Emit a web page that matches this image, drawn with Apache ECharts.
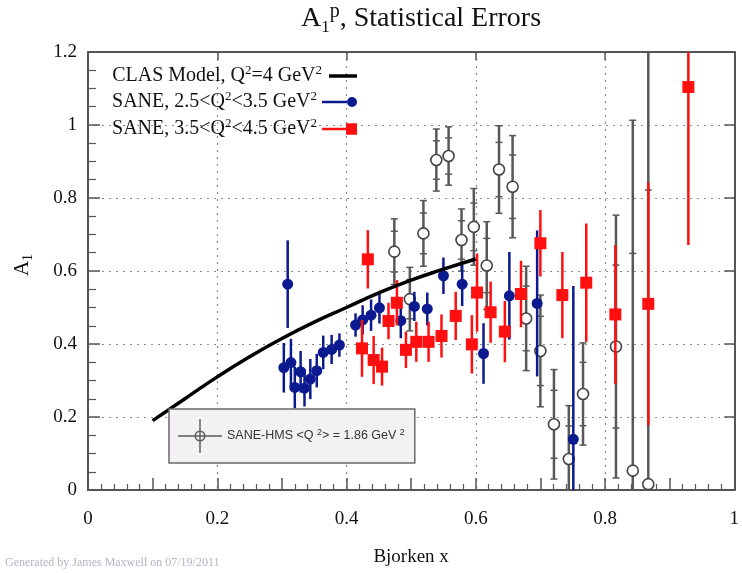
<!DOCTYPE html>
<html>
<head>
<meta charset="utf-8">
<title>A1p, Statistical Errors</title>
<script src="https://cdn.jsdelivr.net/npm/echarts@6/dist/echarts.min.js"></script>
<style>
html, body { margin: 0; padding: 0; background: #fff; }
#chart1 { width: 742px; height: 573px; }
</style>
</head>
<body>
<div id="chart1"></div>
<script>
/* A1 proton, statistical errors */

// CLAS model, Q2 = 4 GeV2
var modelX = [0.1, 0.15, 0.2, 0.25, 0.3, 0.35, 0.4, 0.45, 0.5, 0.55, 0.6];
var modelY = [0.19, 0.25, 0.31, 0.365, 0.415, 0.46, 0.50, 0.54, 0.575, 0.605, 0.633];

// SANE, 2.5<Q2<3.5
var blueX = [0.303, 0.309, 0.314, 0.320, 0.329, 0.335, 0.344, 0.354, 0.364, 0.377, 0.389, 0.414,
             0.425, 0.438, 0.451, 0.484, 0.505, 0.525, 0.550, 0.579, 0.612, 0.652, 0.695, 0.751];
var blueY = [0.335, 0.564, 0.349, 0.281, 0.324, 0.279, 0.304, 0.327, 0.377, 0.385, 0.397, 0.452,
             0.466, 0.479, 0.499, 0.464, 0.503, 0.496, 0.587, 0.564, 0.374, 0.532, 0.511, 0.139];
var blueErr = [0.068, 0.12, 0.065, 0.057, 0.057, 0.05, 0.055, 0.046, 0.046, 0.04, 0.032, 0.032,
               0.04, 0.043, 0.043, 0.048, 0.04, 0.045, 0.05, 0.06, 0.083, 0.12, 0.2, 0.42];

// SANE, 3.5<Q2<4.5
var redX = [0.424, 0.433, 0.442, 0.455, 0.465, 0.478, 0.492, 0.508, 0.527, 0.547, 0.569,
            0.594, 0.602, 0.623, 0.645, 0.670, 0.700, 0.734, 0.771, 0.816, 0.867, 0.929];
var redY = [0.388, 0.632, 0.356, 0.338, 0.463, 0.513, 0.384, 0.406, 0.406, 0.422, 0.477,
            0.399, 0.541, 0.487, 0.434, 0.537, 0.676, 0.534, 0.568, 0.481, 0.510, 1.104];
var redErr = [0.078, 0.08, 0.066, 0.052, 0.05, 0.062, 0.05, 0.055, 0.055, 0.059, 0.066,
              0.08, 0.107, 0.084, 0.084, 0.091, 0.091, 0.118, 0.162, 0.19, 0.333, 0.433];

// SANE-HMS <Q2> = 1.86
var hmsX = [0.474, 0.498, 0.519, 0.539, 0.558, 0.578, 0.597, 0.617, 0.636,
            0.657, 0.678, 0.700, 0.721, 0.744, 0.766, 0.817, 0.843, 0.867];
var hmsY = [0.653, 0.523, 0.703, 0.904, 0.915, 0.685, 0.721, 0.615, 0.878,
            0.831, 0.470, 0.381, 0.180, 0.085, 0.263, 0.393, 0.053, 0.016];
var hmsErr = [0.09, 0.087, 0.09, 0.085, 0.08, 0.085, 0.105, 0.12, 0.12,
              0.14, 0.143, 0.153, 0.15, 0.146, 0.14, 0.36, 0.96, 1.3];

var serif = "'Liberation Serif', 'DejaVu Serif', serif";
var sans = "'Liberation Sans', Arial, sans-serif";
var blue = '#0b1a8e', red = '#ff0f0f', gray = '#585858';

function zip3(xs, ys, es) {
    var out = [];
    for (var i = 0; i < xs.length; i++) out.push([xs[i], ys[i], es[i]]);
    return out;
}
var modelData = [];
for (var i = 0; i < modelX.length; i++) modelData.push([modelX[i], modelY[i]]);

function errBars(kind) {
    return function (params, api) {
        var x = api.value(0), y = api.value(1), e = api.value(2);
        var p = api.coord([x, y]);
        var t = api.coord([x, y + e])[1];
        var b = api.coord([x, y - e])[1];
        var kids = [];
        var col = kind === 'hms' ? gray : (kind === 'blue' ? blue : red);
        kids.push({ type: 'line', shape: { x1: p[0], y1: t, x2: p[0], y2: b },
                    style: { stroke: col, lineWidth: 2.5 } });
        if (kind === 'hms') {
            var m1 = api.coord([x, y + 0.62 * e])[1];
            var m2 = api.coord([x, y - 0.62 * e])[1];
            [t, b, m1, m2].forEach(function (yy) {
                kids.push({ type: 'line', shape: { x1: p[0] - 3.5, y1: yy, x2: p[0] + 3.5, y2: yy },
                            style: { stroke: gray, lineWidth: 1.5 } });
            });
            kids.push({ type: 'circle', shape: { cx: p[0], cy: p[1], r: 5.5 },
                        style: { fill: '#fff', stroke: '#444', lineWidth: 1.6 } });
        } else if (kind === 'blue') {
            kids.push({ type: 'circle', shape: { cx: p[0], cy: p[1], r: 5.5 }, style: { fill: blue } });
        } else {
            kids.push({ type: 'rect', shape: { x: p[0] - 6, y: p[1] - 6, width: 12, height: 12 },
                        style: { fill: red } });
        }
        return { type: 'group', children: kids };
    };
}

var legendLabels = {
    clas: '{n|CLAS Model, Q}{s|2}{n|=4 GeV}{s|2}',
    sane1: '{n|SANE, 2.5<Q}{s|2}{n|<3.5 GeV}{s|2}',
    sane2: '{n|SANE, 3.5<Q}{s|2}{n|<4.5 GeV}{s|2}',
    hms: '{n|SANE-HMS <Q }{s|2}{n|> = 1.86 GeV }{s|2}'
};
function legendFmt(name) { return legendLabels[name]; }

var serifLegendText = {
    color: '#111',
    rich: {
        n: { fontFamily: serif, fontSize: 20, lineHeight: 24, color: '#111' },
        s: { fontFamily: serif, fontSize: 13, lineHeight: 17, verticalAlign: 'top', color: '#111' }
    }
};
function serifLegend(name, top, icon, w, h) {
    return {
        data: [{ name: name, icon: icon }],
        right: 385, top: top, padding: 0,
        align: 'right', itemWidth: w, itemHeight: h,
        selectedMode: false, formatter: legendFmt,
        textStyle: serifLegendText
    };
}

var mychart = echarts.init(document.getElementById('chart1'));

var option = {
    animation: false,
    backgroundColor: '#fff',
    grid: { left: 88, right: 3, top: 52, bottom: 83 },
    legend: [
        serifLegend('clas', 64, 'path://M0,0 L32,0 L32,4 L0,4 Z', 32, 3.5),
        serifLegend('sane1', 90, 'path://M0,4 L25,4 L25,6.5 L0,6.5 Z M25,5.25 A5,5 0 1 1 35,5.25 A5,5 0 1 1 25,5.25 Z', 35, 10.5),
        serifLegend('sane2', 117, 'path://M0,4.5 L25,4.5 L25,7 L0,7 Z M24,0 L35,0 L35,11.5 L24,11.5 Z', 35, 11.5),
        {
            data: [{ name: 'hms', icon: 'path://M0,16.3 L44,16.3 L44,17.7 L0,17.7 Z M21.3,0 L22.7,0 L22.7,34 L21.3,34 Z M27.5,17 A5.5,5.5 0 1 1 16.5,17 A5.5,5.5 0 1 1 27.5,17 Z M26,17 A4,4 0 1 0 18,17 A4,4 0 1 0 26,17 Z' }],
            left: 169, top: 409, padding: [10, 10, 10, 9],
            itemWidth: 44, itemHeight: 34,
            backgroundColor: '#f4f1f4', borderColor: '#6a6a6a', borderWidth: 1.5,
            selectedMode: false, formatter: legendFmt,
            textStyle: {
                color: '#333',
                rich: {
                    n: { fontFamily: sans, fontSize: 12.5, lineHeight: 16, color: '#333' },
                    s: { fontFamily: sans, fontSize: 9, lineHeight: 10, verticalAlign: 'top', color: '#333' }
                }
            }
        }
    ],
    graphic: [
        {
            type: 'text', x: 421, y: 19,
            style: {
                text: '{a|A}{b|1}{c|p}{a|, Statistical Errors}',
                textAlign: 'center', textVerticalAlign: 'middle',
                align: 'center', verticalAlign: 'middle',
                rich: {
                    a: { fontFamily: serif, fontSize: 28, lineHeight: 34, fill: '#111', color: '#111' },
                    b: { fontFamily: serif, fontSize: 17, lineHeight: 21, verticalAlign: 'bottom', fill: '#111', color: '#111' },
                    c: { fontFamily: serif, fontSize: 20, lineHeight: 24, verticalAlign: 'top', fill: '#111', color: '#111' }
                }
            }
        },
        {
            type: 'text', x: 22, y: 265, rotation: Math.PI / 2,
            style: {
                text: '{a|A}{b|1}',
                textAlign: 'center', textVerticalAlign: 'middle',
                align: 'center', verticalAlign: 'middle',
                rich: {
                    a: { fontFamily: serif, fontSize: 21, lineHeight: 26, fill: '#111', color: '#111' },
                    b: { fontFamily: serif, fontSize: 14, lineHeight: 16, verticalAlign: 'bottom', fill: '#111', color: '#111' }
                }
            }
        },
        {
            type: 'text', x: 5, y: 563,
            style: {
                text: 'Generated by James Maxwell on 07/19/2011',
                font: '12px ' + serif, fill: '#b4b4c4',
                textAlign: 'left', textVerticalAlign: 'middle',
                align: 'left', verticalAlign: 'middle'
            }
        }
    ],
    xAxis: [{
        type: 'value', min: 0, max: 1, interval: 0.1, position: 'bottom',
        name: 'Bjorken x', nameLocation: 'middle', nameGap: 58,
        nameTextStyle: { fontFamily: serif, fontSize: 19, color: '#111' },
        axisLine: { show: true, onZero: false, lineStyle: { color: '#555', width: 2 } },
        axisTick: { show: true, inside: true, length: 12, lineStyle: { color: '#555', width: 1.5 } },
        minorTick: { show: true, splitNumber: 5, length: 6, lineStyle: { color: '#555', width: 1.2 } },
        axisLabel: {
            margin: 20, fontFamily: serif, fontSize: 19, color: '#111',
            formatter: function (v) {
                var k = Math.round(v * 10);
                return k % 2 === 0 ? String(k / 10) : '';
            }
        },
        splitLine: { show: false }
    }, {
        type: 'value', min: 0, max: 1, interval: 0.2, position: 'top',
        axisLine: { show: true, onZero: false, lineStyle: { color: '#555', width: 2 } },
        axisTick: { show: true, inside: true, length: 8, lineStyle: { color: '#555', width: 1.5 } },
        axisLabel: { show: false },
        splitLine: { show: true, lineStyle: { color: '#8a8a8a', width: 1.2, type: [2, 5] } }
    }],
    yAxis: [{
        type: 'value', min: 0, max: 1.2, interval: 0.2, position: 'left',
        axisLine: { show: true, onZero: false, lineStyle: { color: '#555', width: 2 } },
        axisTick: { show: true, inside: true, length: 12, lineStyle: { color: '#555', width: 1.5 } },
        minorTick: { show: true, splitNumber: 4, length: 8, lineStyle: { color: '#555', width: 1.2 } },
        axisLabel: {
            margin: 11, fontFamily: serif, fontSize: 19, color: '#111',
            formatter: function (v) { return String(Math.round(v * 10) / 10); }
        },
        splitLine: { show: true, lineStyle: { color: '#8a8a8a', width: 1.2, type: [2, 5] } }
    }, {
        type: 'value', min: 0, max: 1.2, interval: 0.2, position: 'right',
        axisLine: { show: true, onZero: false, lineStyle: { color: '#555', width: 2 } },
        axisTick: { show: true, inside: true, length: 10, lineStyle: { color: '#555', width: 1.5 } },
        axisLabel: { show: false },
        splitLine: { show: false }
    }],
    series: [{
        name: 'hms', type: 'custom', clip: true,
        itemStyle: { color: gray },
        renderItem: errBars('hms'),
        encode: { x: 0, y: 1 },
        data: zip3(hmsX, hmsY, hmsErr)
    }, {
        name: 'sane1', type: 'custom', clip: true,
        itemStyle: { color: blue },
        renderItem: errBars('blue'),
        encode: { x: 0, y: 1 },
        data: zip3(blueX, blueY, blueErr)
    }, {
        name: 'sane2', type: 'custom', clip: true,
        itemStyle: { color: red },
        renderItem: errBars('red'),
        encode: { x: 0, y: 1 },
        data: zip3(redX, redY, redErr)
    }, {
        name: 'clas', type: 'line', smooth: true, symbol: 'none',
        itemStyle: { color: '#000' },
        lineStyle: { color: '#000', width: 3.5 },
        data: modelData
    }]
};

mychart.setOption(option);
</script>
</body>
</html>
